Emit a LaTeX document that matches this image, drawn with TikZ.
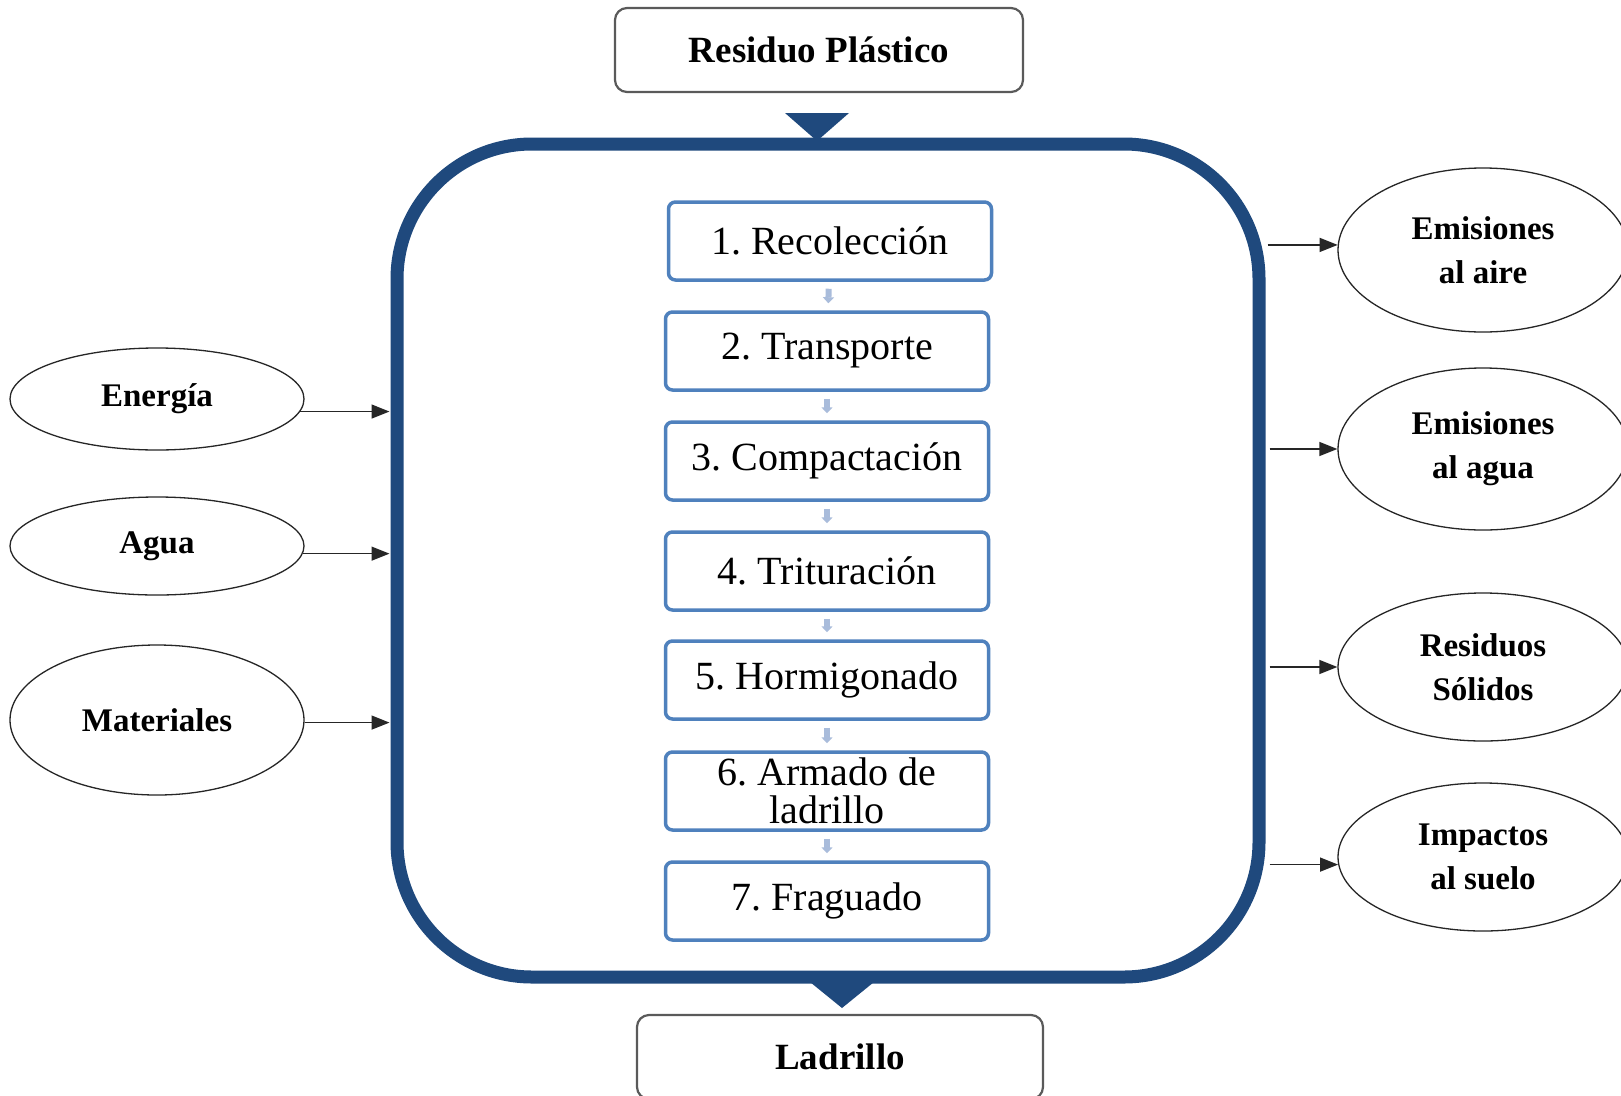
\documentclass[tikz,border=0pt]{standalone}
\usepackage{fontspec}
\setmainfont{Liberation Serif}
\usetikzlibrary{arrows.meta,shapes.geometric,calc}

\definecolor{framecol}{HTML}{1F497D}
\definecolor{stepcol}{HTML}{4F81BD}
\definecolor{flowcol}{HTML}{A9BCDB}
\definecolor{boxgray}{HTML}{5A5A5A}

\begin{document}
\frenchspacing
\begin{tikzpicture}[x=1pt,y=-1pt,
  endbox/.style={draw=boxgray, line width=2.2pt, rounded corners=12pt, minimum width=408pt,
    minimum height=84pt, fill=white, font=\fontsize{37}{40}\selectfont\bfseries},
  stepbox/.style={draw=stepcol, line width=3.5pt, rounded corners=7pt, minimum width=323pt,
    minimum height=78pt, fill=white, align=center, inner sep=0pt,
    font=\fontsize{40}{38}\selectfont},
  flowbox/.style={ellipse, draw=black!85, line width=1.3pt, minimum width=294pt,
    align=center, inner sep=0pt, font=\fontsize{33}{44}\selectfont\bfseries},
  stepflow/.style={flowcol, line width=6pt, shorten <=7pt, shorten >=7pt,
    -{Triangle[length=6pt,width=11pt]}},
  ioarrow/.style={black!85, line width=1.4pt, -{Triangle[length=18pt,width=14pt]}}
]
\useasboundingbox (0,0) rectangle (1621,1095);
\clip (0,0) rectangle (1621,1095);
\fill[white] (0,0) rectangle (1621,1095);

% input and output of the process
\node[endbox] (rp) at (819,50) {Residuo Plástico};
\node[endbox, minimum width=406pt] (la) at (840,1057) {Ladrillo};

% process frame
\node[draw=framecol, line width=13pt, rounded corners=135pt, minimum width=862pt,
  minimum height=833pt, inner sep=0pt] (frame) at (828,560.5) {};

% entry and exit markers on the frame
\coordinate (inTip) at (817,141);
\fill[framecol] (inTip) -- ++(-32,-28) -- ++(64,0) -- cycle;
\coordinate (outTip) at (842,1008);
\fill[framecol] (outTip) -- ++(-32,-26) -- ++(64,0) -- cycle;

% process steps
\node[stepbox] (s1) at (830,241) {1. Recolección};
\node[stepbox] (s2) at (827,351) {2. Transporte};
\node[stepbox] (s3) at (827,461) {3. Compactación};
\node[stepbox] (s4) at (827,571) {4. Trituración};
\node[stepbox] (s5) at (827,680) {5. Hormigonado};
\node[stepbox] (s6) at (827,791) {6. Armado de\\ladrillo};
\node[stepbox] (s7) at (827,901) {7. Fraguado};

\draw[stepflow] (s1) -- (s2);
\draw[stepflow] (s2) -- (s3);
\draw[stepflow] (s3) -- (s4);
\draw[stepflow] (s4) -- (s5);
\draw[stepflow] (s5) -- (s6);
\draw[stepflow] (s6) -- (s7);

% inputs
\node[flowbox, minimum height=102pt] (en) at (157,399) {Energía};
\node[flowbox, minimum height=98pt] (ag) at (157,546) {Agua};
\node[flowbox, minimum height=150pt] (ma) at (157,720) {Materiales};

\draw[ioarrow, shorten >=1pt] (en.-5) -- (en.-5 -| frame.west);
\draw[ioarrow, shorten >=1pt] (ag.-3) -- (ag.-3 -| frame.west);
\draw[ioarrow, shorten >=1pt] (ma.-1) -- (ma.-1 -| frame.west);

% outputs
\node[flowbox, minimum width=290pt, minimum height=164pt] (ea) at (1483,250) {Emisiones\\al aire};
\node[flowbox, minimum width=290pt, minimum height=162pt] (ew) at (1483,449) {Emisiones\\al agua};
\node[flowbox, minimum width=290pt, minimum height=148pt] (rs) at (1483,667) {Residuos\\Sólidos};
\node[flowbox, minimum width=290pt, minimum height=148pt] (is) at (1483,857) {Impactos\\al suelo};

\draw[ioarrow, shorten <=2pt] (ea.178 -| frame.east) -- (ea.178);
\draw[ioarrow, shorten <=4pt] (ew.west -| frame.east) -- (ew.west);
\draw[ioarrow, shorten <=4pt] (rs.west -| frame.east) -- (rs.west);
\draw[ioarrow, shorten <=4pt] (is.183 -| frame.east) -- (is.183);
\end{tikzpicture}
\end{document}
